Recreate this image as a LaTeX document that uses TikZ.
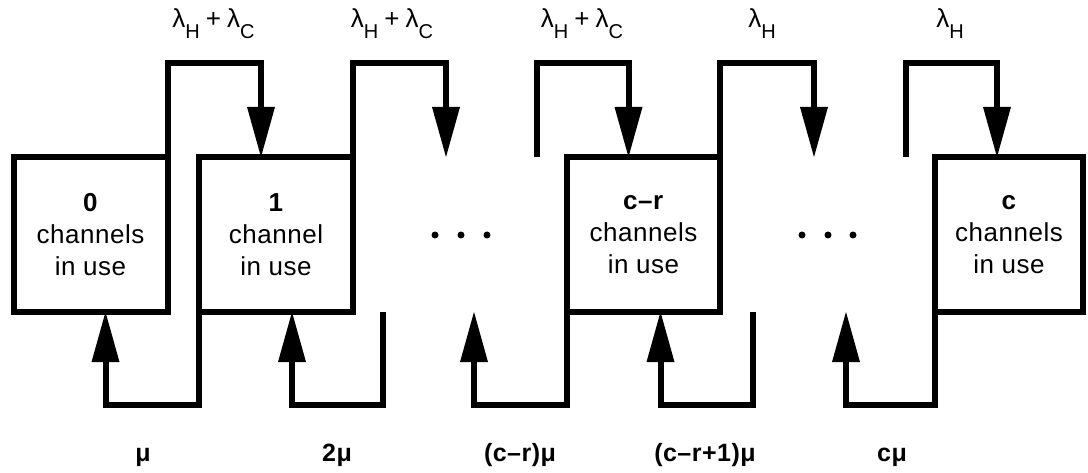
\documentclass[tikz,border=0pt]{standalone}
\usepackage{fontspec}
\setmainfont{Liberation Sans}
\usetikzlibrary{arrows.meta}
\newcommand{\lsub}[1]{\raisebox{-11pt}{\fontsize{20}{20}\selectfont #1}}
\newcommand{\lplus}{\hspace{6pt}+\hspace{6pt}}
\begin{document}
\begin{tikzpicture}[x=1pt,y=-1pt,
  box/.style={draw, line width=6pt, minimum width=154pt, minimum height=155pt, inner sep=0pt, outer sep=0pt},
  conn/.style={line width=6pt, line join=miter, -{Triangle[length=50pt,width=28pt,line width=0pt]}},
  lbl/.style={font=\fontsize{26}{30}\selectfont, inner sep=0pt, anchor=base},
  blbl/.style={font=\fontsize{25}{28}\selectfont\bfseries\addfontfeature{LetterSpace=2}, inner sep=0pt, anchor=base},
  btext/.style={align=center, font=\fontsize{26}{32}\selectfont\addfontfeature{LetterSpace=2}, inner sep=0pt},
  dotn/.style={circle, fill, inner sep=0pt, minimum size=7pt}]
\fill[white] (0,0) rectangle (1088,473);
\useasboundingbox (0,0) rectangle (1088,473);

% boxes
\node[box] (b0) at (90.5,234.5) {};
\node[box] (b1) at (276,234.5) {};
\node[box, minimum width=153pt] (bcr) at (643.5,234.5) {};
\node[box, minimum width=148pt] (bc) at (1009,234.5) {};

\node[btext] (t0) at (b0.center) {\textbf{0}\\channels\\in use};
\node[btext] (t1) at (b1.center) {\textbf{1}\\channel\\in use};
\node[btext] (tcr) at (bcr.center) {\textbf{c–r}\\channels\\in use};
\node[btext] (tc) at (bc.center) {\textbf{c}\\channels\\in use};

% levels and free ends
\coordinate (T) at (0,63);
\coordinate (B) at (0,405);
\coordinate (d1top) at (446,157);
\coordinate (d1s) at (537,157);
\coordinate (d2top) at (814,157);
\coordinate (d2s) at (906,157);
\coordinate (e1) at (383,312);
\coordinate (d1bot) at (474,312);
\coordinate (e2) at (753,312);
\coordinate (d2bot) at (846,312);

% dots
\node[dotn] (p1) at (435,235) {};
\node[dotn] (p2) at (461,235) {};
\node[dotn] (p3) at (487,235) {};
\node[dotn] (q1) at (802,235) {};
\node[dotn] (q2) at (828,235) {};
\node[dotn] (q3) at (853,235) {};

% top connectors
\draw[conn] (b0.north east) |- ([xshift=-15pt]b1.north |- T) -- ([xshift=-15pt]b1.north);
\draw[conn] (b1.north east) |- (d1top |- T) -- (d1top);
\draw[conn] (d1s) |- ([xshift=-15pt]bcr.north |- T) -- ([xshift=-15pt]bcr.north);
\draw[conn] (bcr.north east) |- (d2top |- T) -- (d2top);
\draw[conn] (d2s) |- ([xshift=-12pt]bc.north |- T) -- ([xshift=-12pt]bc.north);

% bottom connectors
\draw[conn] (b1.south west) |- ([xshift=15pt]b0.south |- B) -- ([xshift=15pt]b0.south);
\draw[conn] (e1) |- ([xshift=16pt]b1.south |- B) -- ([xshift=16pt]b1.south);
\draw[conn] (bcr.south west) |- (d1bot |- B) -- (d1bot);
\draw[conn] (e2) |- ([xshift=17pt]bcr.south |- B) -- ([xshift=17pt]bcr.south);
\draw[conn] (bc.south west) |- (d2bot |- B) -- (d2bot);

% top labels
\node[lbl] (l1) at (213.5,28) {λ\lsub{H}\lplus λ\lsub{C}};
\node[lbl] (l2) at (392,28) {λ\lsub{H}\lplus λ\lsub{C}};
\node[lbl] (l3) at (582,28) {λ\lsub{H}\lplus λ\lsub{C}};
\node[lbl] (l4) at (762,28) {λ\lsub{H}};
\node[lbl] (l5) at (950,28) {λ\lsub{H}};

% bottom labels
\node[blbl] (m1) at (143,461) {μ};
\node[blbl] (m2) at (337,461) {2μ};
\node[blbl] (m3) at (520,461) {(c–r)μ};
\node[blbl] (m4) at (705,461) {(c–r+1)μ};
\node[blbl] (m5) at (892,461) {cμ};
\end{tikzpicture}
\end{document}
